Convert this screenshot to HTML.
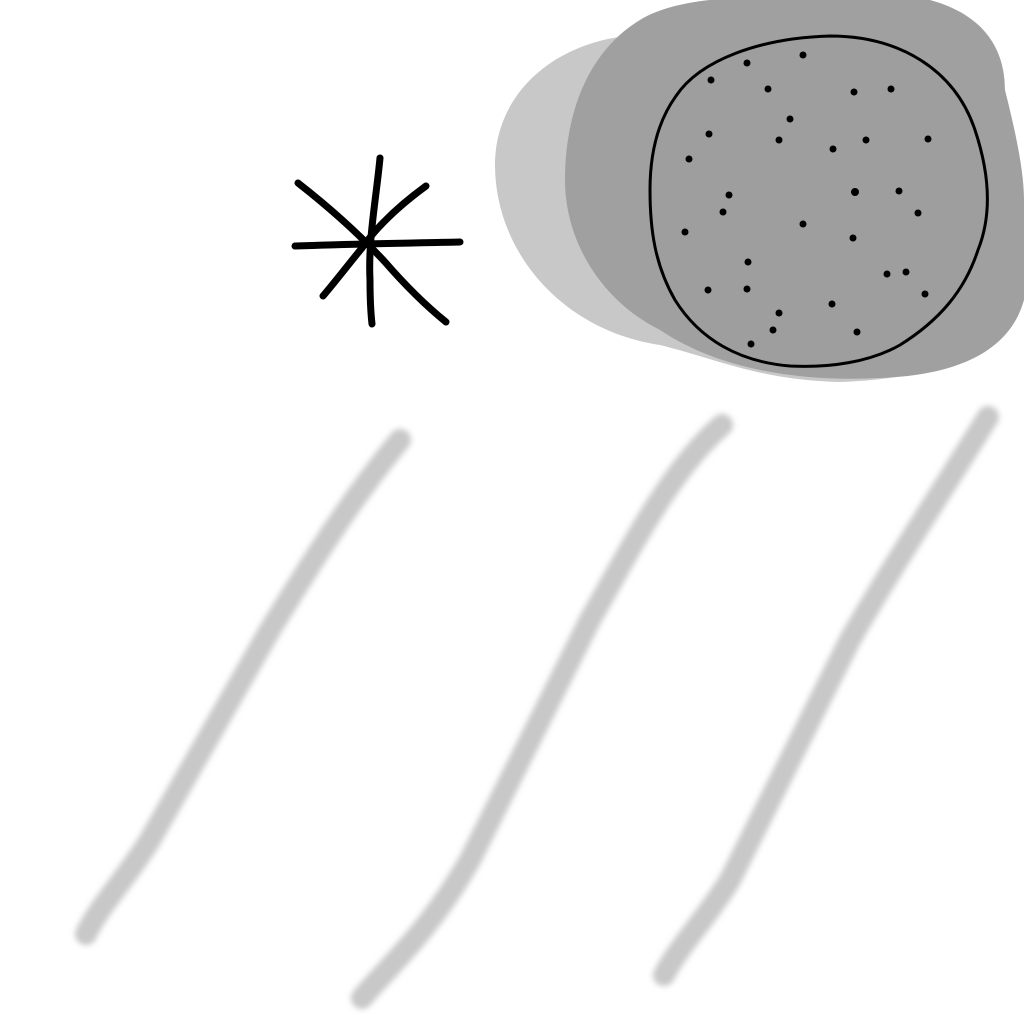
<!DOCTYPE html>
<html>
<head>
<meta charset="utf-8">
<style>
  html,body{margin:0;padding:0;background:#fff;}
  svg{display:block;}
</style>
</head>
<body>
<svg width="1024" height="1024" viewBox="0 0 1024 1024">
  <defs>
    <filter id="blur" x="-20%" y="-20%" width="140%" height="140%">
      <feGaussianBlur stdDeviation="3"/>
    </filter>
  </defs>
  <rect width="1024" height="1024" fill="#fff"/>

  <g>
    <path fill="#c8c8c8"
      d="M640,35 C560,38 495,90 495,165 C495,250 560,330 660,345 C720,360 760,380 840,382 C900,380 960,370 990,330 L990,120 C950,60 800,30 640,35 Z"/>
    <path fill="#a0a0a0"
      d="M640,20 C680,-5 760,-5 820,0 L930,0 C985,15 1005,50 1005,90 C1015,130 1024,170 1024,200 L1024,300 C1010,350 960,375 880,378 C800,382 720,370 660,330 C600,300 565,240 565,180 C565,110 590,50 640,20 Z"/>
    <path fill="#9e9e9e" stroke="#000" stroke-width="3"
      d="M676,96 C700,60 760,38 830,36 C900,36 955,70 975,130 C990,175 992,215 978,250 C965,290 940,320 900,345 C870,362 830,368 790,366 C740,362 700,340 675,300 C655,265 650,230 650,190 C650,160 655,125 676,96 Z"/>
    <g fill="#000">
      <circle cx="711" cy="80" r="3.5"/><circle cx="747" cy="63" r="3.5"/><circle cx="803" cy="55" r="3.5"/>
      <circle cx="768" cy="89" r="3.5"/><circle cx="854" cy="92" r="3.5"/><circle cx="891" cy="89" r="3.5"/>
      <circle cx="709" cy="134" r="3.5"/><circle cx="790" cy="119" r="3.5"/><circle cx="779" cy="140" r="3.5"/>
      <circle cx="833" cy="149" r="3.5"/><circle cx="866" cy="140" r="3.5"/><circle cx="928" cy="139" r="3.5"/>
      <circle cx="689" cy="159" r="3.5"/><circle cx="729" cy="195" r="3.5"/><circle cx="723" cy="212" r="3.5"/>
      <circle cx="855" cy="192" r="4"/><circle cx="899" cy="191" r="3.5"/><circle cx="918" cy="213" r="3.5"/>
      <circle cx="685" cy="232" r="3.5"/><circle cx="803" cy="224" r="3.5"/><circle cx="853" cy="238" r="3.5"/>
      <circle cx="748" cy="262" r="3.5"/><circle cx="887" cy="274" r="3.5"/><circle cx="906" cy="272" r="3.5"/>
      <circle cx="708" cy="290" r="3.5"/><circle cx="747" cy="289" r="3.5"/><circle cx="832" cy="304" r="3.5"/>
      <circle cx="925" cy="294" r="3.5"/><circle cx="779" cy="313" r="3.5"/><circle cx="773" cy="330" r="3.5"/>
      <circle cx="857" cy="332" r="3.5"/><circle cx="751" cy="344" r="3.5"/>
    </g>
  </g>

  <g stroke="#000" stroke-width="7" stroke-linecap="round" fill="none">
    <path d="M295,246 C350,244 410,243 460,242"/>
    <path d="M380,158 C376,200 368,240 370,280 C370,300 371,315 372,324"/>
    <path d="M298,183 C330,208 360,235 385,262 C405,285 425,305 446,322"/>
    <path d="M426,186 C400,205 378,225 362,248 C348,265 335,282 323,296"/>
  </g>

  <g stroke="#c8c8c8" stroke-width="22" stroke-linecap="round" fill="none" filter="url(#blur)">
    <path d="M86,934 C100,905 125,880 150,840 C190,770 230,700 270,630 C310,565 350,500 400,440"/>
    <path d="M362,998 C390,965 430,930 470,860 C510,780 550,700 590,620 C630,550 670,470 722,425"/>
    <path d="M664,975 C680,945 705,920 730,880 C770,800 810,720 850,640 C890,570 930,510 988,417"/>
  </g>
</svg>
</body>
</html>
